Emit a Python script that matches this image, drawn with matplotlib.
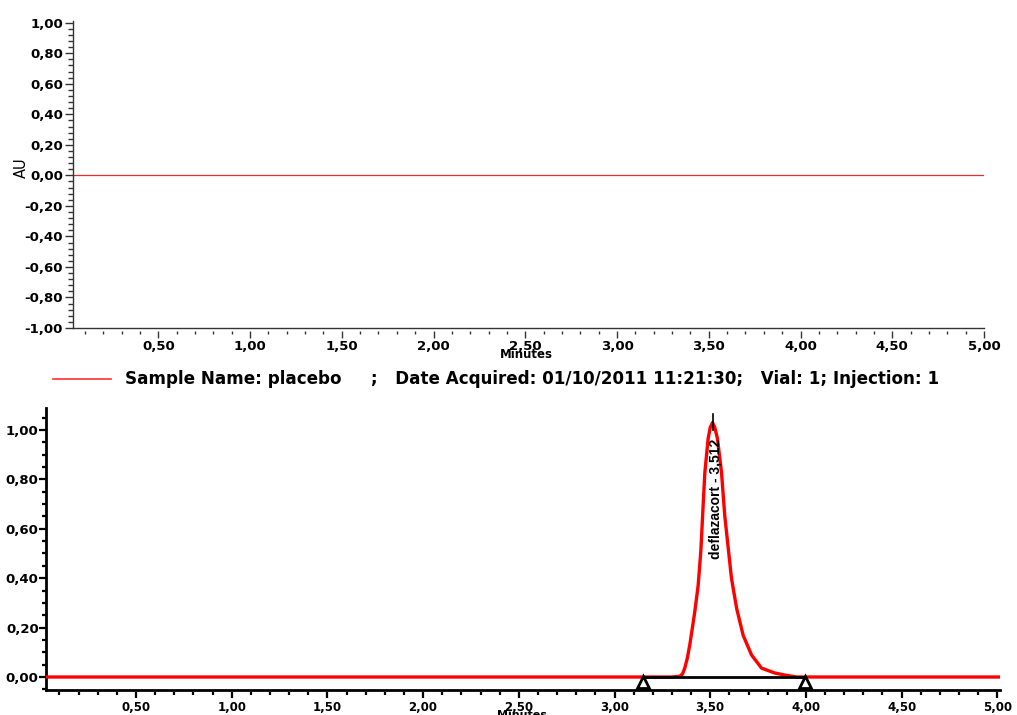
import matplotlib
matplotlib.use("Agg")
import matplotlib.pyplot as plt
from matplotlib.ticker import MultipleLocator, FuncFormatter

# ---- data -------------------------------------------------------------
# placebo injection: flat trace
placebo_time = [0.035, 5.0]
placebo_au = [0.0, 0.0]

# sample injection: deflazacort peak on a flat baseline
sample_time = [0.03, 3.30, 3.341, 3.355, 3.367, 3.380, 3.393, 3.406, 3.419,
               3.437, 3.451, 3.462, 3.472, 3.489, 3.500, 3.512, 3.524, 3.538,
               3.559, 3.576, 3.593, 3.611, 3.638, 3.672, 3.716, 3.768, 3.838,
               3.890, 3.950, 5.015]
sample_au = [0.0, 0.0, 0.003, 0.012, 0.036, 0.075, 0.129, 0.195, 0.262,
             0.371, 0.510, 0.680, 0.828, 0.964, 1.010, 1.030, 1.010, 0.964,
             0.828, 0.653, 0.530, 0.400, 0.278, 0.169, 0.089, 0.036, 0.016,
             0.008, 0.0, 0.0]

peak_name = "deflazacort"
peak_rt = 3.512
peak_apex_au = 1.030
integration_start = 3.147
integration_end = 3.995

legend_text = ("Sample Name: placebo     ;   Date Acquired: 01/10/2011 "
               "11:21:30;   Vial: 1; Injection: 1")

W, H = 1017, 715


def fx(px):
    return px / W


def fy(py):
    return 1 - py / H


def comma_fmt(v, pos=None):
    if abs(v) < 1e-9:
        v = 0.0
    return f"{v:.2f}".replace(".", ",")


fig = plt.figure(figsize=(W / 100, H / 100), dpi=100)
fig.patch.set_facecolor("white")

FONT = "DejaVu Sans"

# ---- upper panel: placebo ----------------------------------------------
ax1 = fig.add_axes([fx(73), fy(328), fx(984) - fx(73), (328 - 21.2) / H])
ax1.plot(placebo_time, placebo_au, color="#ee2a2a", lw=0.9)
ax1.set_xlim(0.0354, 5.0)
ax1.set_ylim(-1.0, 1.01)
for s in ("top", "right"):
    ax1.spines[s].set_visible(False)
ax1.spines["left"].set_color("#333333")
ax1.spines["left"].set_linewidth(1.0)
ax1.spines["bottom"].set_position(("outward", 2.2))
ax1.spines["bottom"].set_visible(False)
ax1.axhline(-1.0, color="#333333", lw=1.0, clip_on=False)

ax1.xaxis.set_minor_locator(MultipleLocator(0.1))
ax1.set_xticks([t / 10 for t in range(5, 51, 5)])
ax1.yaxis.set_major_locator(MultipleLocator(0.2))
ax1.yaxis.set_minor_locator(MultipleLocator(0.04))
ax1.xaxis.set_major_formatter(FuncFormatter(comma_fmt))
ax1.yaxis.set_major_formatter(FuncFormatter(comma_fmt))
ax1.tick_params(axis="x", which="major", length=5, width=1, color="#333333",
                pad=1.5, labelsize=9.5)
ax1.tick_params(axis="x", which="minor", length=2.5, width=1, color="#333333")
ax1.tick_params(axis="y", which="major", length=5.8, width=1, color="#333333",
                pad=1.4, labelsize=9.5)
ax1.tick_params(axis="y", which="minor", length=3.6, width=1, color="#333333")
for lab in ax1.get_xticklabels() + ax1.get_yticklabels():
    lab.set_fontfamily(FONT)
    lab.set_fontweight("bold")

fig.text(fx(21), fy(168), "AU", rotation=90, ha="center", va="center",
         fontsize=10.5, family=FONT)
fig.text(fx(526), fy(354), "Minutes", ha="center", va="center",
         fontsize=8.5, family=FONT, fontweight="bold")

# legend row
fig.add_artist(plt.Line2D([fx(53), fx(111)], [fy(379), fy(379)],
                          color="#ff3030", lw=1.2))
fig.text(fx(125), fy(378.5), legend_text, ha="left", va="center",
         fontsize=12.1, family=FONT, fontweight="bold")

# ---- lower panel: sample -----------------------------------------------
ax2 = fig.add_axes([fx(46), fy(689.6), fx(1000.2) - fx(46), (689.6 - 408) / H])
ax2.plot(sample_time, sample_au, color="#ff0000", lw=2.4, solid_joinstyle="round",
         zorder=3)
ax2.set_xlim(0.0298, 5.015)
ax2.set_ylim(-0.051, 1.089)
for s in ("top", "right"):
    ax2.spines[s].set_visible(False)
ax2.spines["left"].set_linewidth(2.0)
ax2.spines["bottom"].set_position(("outward", 1.5))
ax2.spines["bottom"].set_visible(False)
ax2.axhline(-0.051, color="black", lw=2.0, clip_on=False)

ax2.xaxis.set_minor_locator(MultipleLocator(0.1))
ax2.set_xticks([t / 10 for t in range(5, 51, 5)])
ax2.set_yticks([0.0, 0.2, 0.4, 0.6, 0.8, 1.0])
ax2.yaxis.set_minor_locator(MultipleLocator(0.05))
ax2.xaxis.set_major_formatter(FuncFormatter(comma_fmt))
ax2.yaxis.set_major_formatter(FuncFormatter(comma_fmt))
ax2.tick_params(axis="x", which="major", length=4.5, width=1.6, pad=2,
                labelsize=8.5)
ax2.tick_params(axis="x", which="minor", length=2.2, width=1.6)
ax2.tick_params(axis="y", which="major", length=5, width=1.6, pad=0.3,
                labelsize=9.5)
ax2.tick_params(axis="y", which="minor", length=3, width=1.6)
for lab in ax2.get_xticklabels() + ax2.get_yticklabels():
    lab.set_fontfamily(FONT)
    lab.set_fontweight("bold")

# integration baseline with start/end markers
ax2.plot([integration_start, integration_end], [0.0, 0.0], color="black",
         lw=2.0, zorder=4)
ax2.plot([integration_start, integration_end], [-0.022, -0.022],
         linestyle="none", marker="^", markersize=9, markerfacecolor="white",
         markeredgecolor="black", markeredgewidth=2, zorder=5, clip_on=False)

# apex tick and peak label
ax2.plot([peak_rt, peak_rt], [peak_apex_au - 0.03, peak_apex_au + 0.035],
         color="black", lw=1.2, zorder=5)
ax2.text(peak_rt + 0.018, 0.72, f"{peak_name} - {peak_rt:.3f}".replace(".", ","),
         rotation=90, ha="center", va="center", fontsize=10,
         family=["Liberation Sans Narrow", "Liberation Sans"],
         fontweight="bold", zorder=6)

fig.text(fx(522), fy(710), "Minutes", ha="center", va="top", fontsize=8,
         family=FONT, fontweight="bold")

fig.savefig("out.png", dpi=100, facecolor="white")
